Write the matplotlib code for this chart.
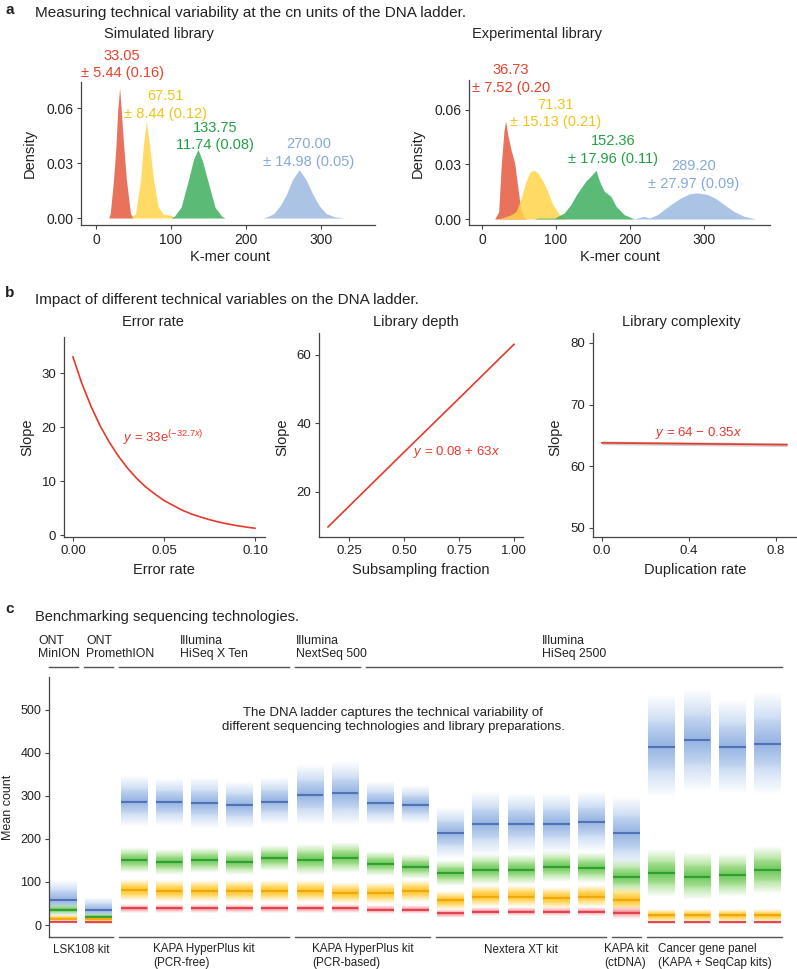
import numpy as np
import matplotlib.pyplot as plt
from matplotlib.colors import to_rgb

plt.rcParams['font.family'] = ['Liberation Sans', 'DejaVu Sans']
plt.rcParams['mathtext.fontset'] = 'custom'
plt.rcParams['mathtext.rm'] = 'Liberation Sans'
plt.rcParams['mathtext.it'] = 'Liberation Sans:italic'
plt.rcParams['text.color'] = '#222222'

# ---------------- data: panel a (densities) ----------------
sim_red_x = [17, 19, 23.4, 26.6, 28.8, 31.5, 33.8, 37, 40.5, 46, 50]
sim_red_y = [0, 0.0024, 0.021, 0.039, 0.058, 0.071, 0.058, 0.039, 0.021, 0.0024, 0]
sim_yel_x = [46, 52.7, 59.5, 63, 67.1, 71.6, 76.6, 83, 90, 100, 107]
sim_yel_y = [0, 0.0024, 0.021, 0.039, 0.053, 0.039, 0.021, 0.006, 0.002, 0.0015, 0]
sim_grn_x = [100, 104.5, 113.5, 123.4, 130, 136, 142, 148.6, 158.6, 167.6, 172]
sim_grn_y = [0, 0.001, 0.006, 0.021, 0.032, 0.0375, 0.031, 0.021, 0.006, 0.001, 0]
sim_blu_x = [222, 230, 237, 246, 254, 262, 271, 280, 289, 298, 307, 318, 332]
sim_blu_y = [0, 0.001, 0.0024, 0.007, 0.013, 0.021, 0.0264, 0.021, 0.013, 0.0065, 0.0024, 0.0007, 0]

exp_red_x = [17, 22.5, 26, 29.6, 31.9, 35, 39.5, 44, 48.5, 52, 57.5, 60]
exp_red_y = [0, 0.004, 0.030, 0.0485, 0.054, 0.0458, 0.0375, 0.031, 0.017, 0.006, 0.0005, 0]
exp_yel_x = [22, 30, 39.5, 46, 53, 59.7, 65, 71, 76, 82, 86.7, 95.6, 104.6, 114]
exp_yel_y = [0, 0.001, 0.0024, 0.0042, 0.0116, 0.021, 0.026, 0.0268, 0.025, 0.021, 0.017, 0.008, 0.0024, 0]
exp_grn_x = [70, 75, 98, 111, 120, 129, 140.5, 147, 154, 158.5, 165, 174, 181, 192, 206]
exp_grn_y = [0, 0.0005, 0.0005, 0.0033, 0.008, 0.0144, 0.021, 0.0236, 0.0268, 0.021, 0.0153, 0.0125, 0.007, 0.0024, 0]
exp_blu_x = [205, 212, 219, 226, 237, 255, 268.5, 280, 291, 304.5, 315.7, 327, 340, 354, 370]
exp_blu_y = [0, 0.0008, 0.0015, 0.0006, 0.0024, 0.008, 0.0116, 0.0138, 0.0144, 0.0135, 0.0113, 0.008, 0.0042, 0.0015, 0]

sim_labels = ["33.05\n± 5.44 (0.16)", "67.51\n± 8.44 (0.12)", "133.75\n11.74 (0.08)", "270.00\n± 14.98 (0.05)"]
exp_labels = ["36.73\n± 7.52 (0.20", "71.31\n± 15.13 (0.21)", "152.36\n± 17.96 (0.11)", "289.20\n± 27.97 (0.09)"]

# ---------------- data: panel b ----------------
err_x = [0, 0.005, 0.01, 0.015, 0.02, 0.025, 0.03, 0.035, 0.04, 0.045, 0.05,
         0.055, 0.06, 0.065, 0.07, 0.075, 0.08, 0.085, 0.09, 0.095, 0.1]
err_y = [33.0, 28.0, 23.8, 20.2, 17.2, 14.6, 12.4, 10.5, 8.9, 7.6, 6.4,
         5.5, 4.6, 3.9, 3.35, 2.84, 2.41, 2.05, 1.74, 1.48, 1.25]
depth_x = [0.155, 0.25, 0.5, 0.75, 1.0]
depth_y = [9.8, 15.8, 31.6, 47.3, 63.1]
dup_x = [0.0, 0.85]
dup_y = [63.8, 63.5]

# ---------------- data: panel c (per sample levels) ----------------
blue_mean = [58, 35, 287, 285, 283, 279, 287, 302, 306, 283, 279, 213, 236, 236, 236, 240, 213, 415, 430, 415, 422]
blue_sd = [45, 30, 60, 55, 60, 55, 55, 70, 75, 50, 45, 60, 75, 70, 70, 70, 85, 120, 120, 110, 120]
green_mean = [35, 19, 151, 147, 151, 147, 155, 151, 155, 143, 136, 120, 128, 128, 136, 132, 112, 120, 112, 116, 128]
green_sd = [12, 8, 30, 30, 30, 30, 30, 35, 35, 28, 28, 30, 35, 35, 35, 35, 40, 55, 55, 50, 55]
yellow_mean = [15, 13, 81, 78, 78, 78, 78, 78, 74, 74, 78, 58, 66, 66, 62, 66, 58, 23, 23, 23, 23]
yellow_sd = [6, 5, 25, 25, 25, 25, 25, 25, 25, 25, 25, 22, 25, 25, 25, 25, 28, 15, 15, 15, 15]
red_mean = [8, 6, 39, 39, 39, 39, 39, 39, 39, 36, 36, 27, 31, 31, 31, 31, 27, 6, 6, 6, 6]
red_sd = [3, 3, 10, 10, 10, 10, 10, 10, 10, 10, 10, 10, 10, 10, 10, 10, 14, 3, 3, 3, 3]

top_groups = [("ONT\nMinION", 0, 0, -0.72), ("ONT\nPromethION", 1, 1, 0.64),
              ("Illumina\nHiSeq X Ten", 2, 6, 3.31), ("Illumina\nNextSeq 500", 7, 8, 6.61),
              ("Illumina\nHiSeq 2500", 9, 20, 13.59)]
bottom_groups = [("LSK108 kit", 0, 1), ("KAPA HyperPlus kit\n(PCR-free)", 2, 6),
                 ("KAPA HyperPlus kit\n(PCR-based)", 7, 10), ("Nextera XT kit", 11, 15),
                 ("KAPA kit\n(ctDNA)", 16, 16), ("Cancer gene panel\n(KAPA + SeqCap kits)", 17, 20)]

# ---------------- layout helpers (pixel based) ----------------
W, H = 797, 969
fig = plt.figure(figsize=(W / 100, H / 100), dpi=100)


def box(x0, y0, x1, y1):
    return [x0 / W, 1 - y1 / H, (x1 - x0) / W, (y1 - y0) / H]


def ftext(px, py, s, **kw):
    fig.text(px / W, 1 - py / H, s, **kw)


def style(ax, fs):
    for sp in ['top', 'right']:
        ax.spines[sp].set_visible(False)
    for sp in ['left', 'bottom']:
        ax.spines[sp].set_color('#444444')
        ax.spines[sp].set_linewidth(0.9)
    ax.tick_params(length=3, width=0.8, color='#444444', labelsize=fs, labelcolor='#222222', pad=2.5)


fill_cols = ['#E4593F', '#FFD54A', '#3DAE5E', '#9DBAE1']
lab_cols = ['#E8412B', '#F2C417', '#23A045', '#86A8DD']

# ---------------- panel a ----------------
ftext(5, 10, "a", fontsize=11, fontweight='bold', va='center')
ftext(35, 13, "Measuring technical variability at the cn units of the DNA ladder.", fontsize=11, va='center')

sim = [(sim_red_x, sim_red_y), (sim_yel_x, sim_yel_y), (sim_grn_x, sim_grn_y), (sim_blu_x, sim_blu_y)]
exp = [(exp_red_x, exp_red_y), (exp_yel_x, exp_yel_y), (exp_grn_x, exp_grn_y), (exp_blu_x, exp_blu_y)]
sim_pos = [(35, 0.0837), (92, 0.0616), (159, 0.0445), (284, 0.0355)]
exp_pos = [(39, 0.0771), (99, 0.0581), (177, 0.0380), (286, 0.0242)]

axa1 = fig.add_axes(box(81, 82, 375, 225))
axa2 = fig.add_axes(box(469, 80, 770, 225))
for ax, curves, labels, pos, xl, yl in [
        (axa1, sim, sim_labels, sim_pos, (-20, 372), (-0.0038, 0.0742)),
        (axa2, exp, exp_labels, exp_pos, (-17.6, 389), (-0.0033, 0.0765))]:
    for (cx, cy), col in zip(curves, fill_cols):
        ax.fill_between(cx, 0, cy, color=col, alpha=0.85, lw=0)
    for lab, (px, py), col in zip(labels, pos, lab_cols):
        ax.text(px, py, lab, color=col, fontsize=10.5, ha='center', va='center',
                linespacing=1.3, clip_on=False)
    ax.set_xlim(*xl)
    ax.set_ylim(*yl)
    ax.set_xticks([0, 100, 200, 300])
    ax.set_yticks([0, 0.03, 0.06])
    ax.set_yticklabels(["0.00", "0.03", "0.06"])
    style(ax, 10)

ftext(159, 34, "Simulated library", fontsize=10.5, ha='center', va='center')
ftext(537, 34, "Experimental library", fontsize=10.5, ha='center', va='center')
ftext(30, 153, "Density", fontsize=10.5, ha='center', va='center', rotation=90)
ftext(418, 153, "Density", fontsize=10.5, ha='center', va='center', rotation=90)
ftext(230, 257, "K-mer count", fontsize=10.5, ha='center', va='center')
ftext(620, 257, "K-mer count", fontsize=10.5, ha='center', va='center')

# ---------------- panel b ----------------
ftext(5, 293, "b", fontsize=11, fontweight='bold', va='center')
ftext(35, 300, "Impact of different technical variables on the DNA ladder.", fontsize=11, va='center')
line_col = '#E8382B'

axb1 = fig.add_axes(box(64, 337, 265, 537))
axb1.plot(err_x, err_y, color=line_col, lw=1.2)
axb1.set_xlim(-0.0049, 0.1055)
axb1.set_ylim(-0.37, 36.7)
axb1.set_xticks([0, 0.05, 0.1])
axb1.set_xticklabels(["0.00", "0.05", "0.10"])
axb1.set_yticks([0, 10, 20, 30])
axb1.text(0.0275, 18.0, r"$y$ = 33e$^{(-32.7x)}$", color=line_col, fontsize=9.5, va='center')
style(axb1, 9.5)

axb2 = fig.add_axes(box(319, 333, 523, 537))
axb2.plot(depth_x, depth_y, color=line_col, lw=1.2)
axb2.set_xlim(0.114, 1.041)
axb2.set_ylim(6.86, 66.4)
axb2.set_xticks([0.25, 0.5, 0.75, 1.0])
axb2.set_xticklabels(["0.25", "0.50", "0.75", "1.00"])
axb2.set_yticks([20, 40, 60])
axb2.text(0.541, 31.7, r"$y$ = 0.08 + 63$x$", color=line_col, fontsize=9.5, va='center')
style(axb2, 9.5)

axb3 = fig.add_axes(box(593, 333, 797, 537))
axb3.fill_between(dup_x, [v - 0.3 for v in dup_y], [v + 0.3 for v in dup_y], color='#BBBBBB', alpha=0.7, lw=0)
axb3.plot(dup_x, dup_y, color=line_col, lw=1.2)
axb3.set_xlim(-0.041, 0.897)
axb3.set_ylim(48.54, 81.6)
axb3.set_xticks([0, 0.4, 0.8])
axb3.set_xticklabels(["0.0", "0.4", "0.8"])
axb3.set_yticks([50, 60, 70, 80])
axb3.text(0.244, 65.4, r"$y$ = 64 − 0.35$x$", color=line_col, fontsize=9.5, va='center')
style(axb3, 9.5)

ftext(153, 322, "Error rate", fontsize=10.5, ha='center', va='center')
ftext(416, 322, "Library depth", fontsize=10.5, ha='center', va='center')
ftext(681, 322, "Library complexity", fontsize=10.5, ha='center', va='center')
ftext(27, 437, "Slope", fontsize=10.5, ha='center', va='center', rotation=90)
ftext(282, 437, "Slope", fontsize=10.5, ha='center', va='center', rotation=90)
ftext(555, 437, "Slope", fontsize=10.5, ha='center', va='center', rotation=90)
ftext(164, 570, "Error rate", fontsize=10.5, ha='center', va='center')
ftext(421, 570, "Subsampling fraction", fontsize=10.5, ha='center', va='center')
ftext(695, 570, "Duplication rate", fontsize=10.5, ha='center', va='center')

# ---------------- panel c ----------------
ftext(5, 609, "c", fontsize=11, fontweight='bold', va='center')
ftext(35, 617, "Benchmarking sequencing technologies.", fontsize=10.5, va='center')

axc = fig.add_axes(box(49, 677, 797, 937))
half = 0.38
# (means, spreads, light colour, core colour, centre-line colour)
series = [
    (blue_mean, blue_sd, '#C2D6F1', '#89ABDF', '#4468B0'),
    (green_mean, green_sd, '#A6E08F', '#5CC147', '#22992C'),
    (yellow_mean, yellow_sd, '#FFD966', '#FFBD14', '#F2A200'),
    (red_mean, red_sd, '#F9BCC1', '#F07C85', '#E0343E'),
]
# soft vertical fade of each band (styling only)
t = np.linspace(-1, 1, 101)
alpha_prof = np.clip(1.7 * (1 - np.abs(t)), 0, 1) * 0.9
core = np.clip(1 - np.abs(t) / 0.5, 0, 1)
for means, sds, light, mid, dark in series:
    lo, hi = np.array(to_rgb(light)), np.array(to_rgb(mid))
    rgba = np.zeros((len(t), 1, 4))
    rgba[:, 0, :3] = lo + (hi - lo) * core[:, None]
    rgba[:, 0, 3] = alpha_prof
    for i, (m, s) in enumerate(zip(means, sds)):
        axc.imshow(rgba, extent=[i - half, i + half, m - s, m + s], aspect='auto',
                   interpolation='bilinear', origin='lower', zorder=1)
        axc.plot([i - half, i + half], [m, m], color=dark, lw=1.5, alpha=0.85,
                 solid_capstyle='butt', zorder=2)

axc.set_xlim(-0.412, 20.84)
axc.set_ylim(-27.9, 576.7)
axc.set_yticks([0, 100, 200, 300, 400, 500])
axc.set_xticks([])
style(axc, 9)
axc.spines['bottom'].set_visible(False)

gcol = '#555555'
for lab, a, b, tx in top_groups:
    axc.plot([a - 0.41, b + 0.41], [600, 600], color=gcol, lw=1.0, clip_on=False)
    axc.text(tx, 646, lab, fontsize=8.8, ha='left', va='center', linespacing=1.15, clip_on=False)
for lab, a, b in bottom_groups:
    axc.plot([a - 0.41, b + 0.41], [-27.9, -27.9], color=gcol, lw=1.0, clip_on=False)
    axc.text((a + b) / 2, -71.5 if "\n" in lab else -57, lab, fontsize=8.4, ha='center', va='center',
             multialignment='left', linespacing=1.2, clip_on=False)

axc.text(9.36, 477, "The DNA ladder captures the technical variability of\n"
         "different sequencing technologies and library preparations.",
         fontsize=9.5, ha='center', va='center', linespacing=1.2)
ftext(8, 807, "Mean count", fontsize=9, ha='center', va='center', rotation=90)

fig.savefig("out.png", dpi=100)
